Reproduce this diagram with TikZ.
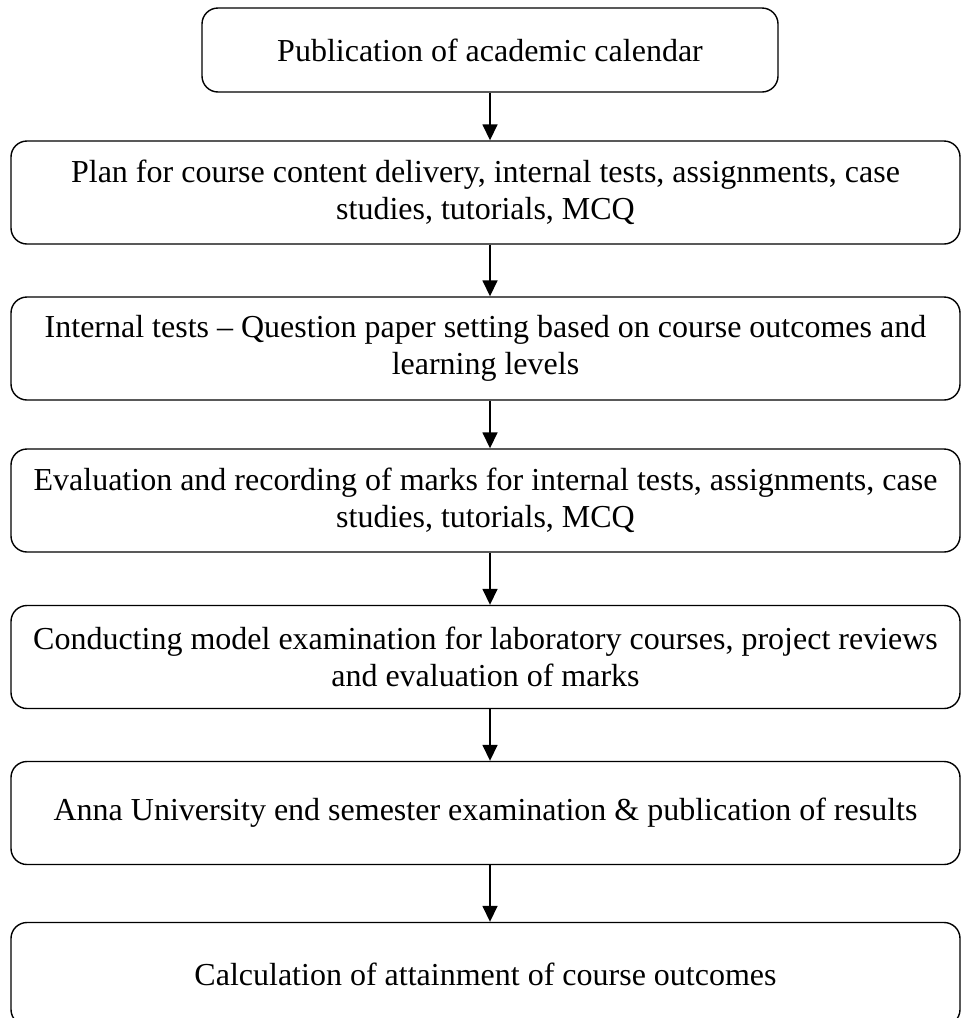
\documentclass[tikz,border=0pt]{standalone}
\usepackage{fontspec}
\setmainfont{Liberation Serif}
\usepackage{tikz}
\usetikzlibrary{arrows.meta}

\begin{document}
\begin{tikzpicture}[x = 1pt, y = -1pt,
  stagebox/.style = {draw, line width = 1.4pt, rounded corners = 16pt,
    shape = rectangle, inner sep = 0pt, align = center,
    minimum width = 949pt, minimum height = 103pt,
    font = \fontsize{32}{36.8}\selectfont},
  flow/.style = {line width = 1.6pt, -{Triangle[length = 16pt, width = 15pt]}}]

% frame
  \fill[white] (0,0) rectangle (961,1018);
  \useasboundingbox (0,0) rectangle (961,1018);

% stages
  \node[stagebox, minimum width = 576pt, minimum height = 84pt]
    (calendar) at (490,50) {Publication of academic calendar};
  \node[stagebox] (plan) at (485.5,192.5)
    {Plan for course content delivery, internal tests, assignments, case\\
     studies, tutorials, MCQ};
  \node[stagebox] (papers) at (485.5,348.5)
    {Internal tests – Question paper setting based on course outcomes and\\
     learning levels};
  \node[stagebox] (marks) at (485.5,500.5)
    {Evaluation and recording of marks for internal tests, assignments, case\\
     studies, tutorials, MCQ};
  \node[stagebox] (model) at (485.5,657)
    {Conducting model examination for laboratory courses, project reviews\\
     and evaluation of marks};
  \node[stagebox] (results) at (485.5,813)
    {Anna University end semester examination \& publication of results};
  \node[stagebox] (attain) at (485.5,974)
    {Calculation of attainment of course outcomes};

% arrows
  \draw[flow] (calendar.south) -- (plan.north -| calendar.south);
  \draw[flow] (plan.south -| calendar.south) -- (papers.north -| calendar.south);
  \draw[flow] (papers.south -| calendar.south) -- (marks.north -| calendar.south);
  \draw[flow] (marks.south -| calendar.south) -- (model.north -| calendar.south);
  \draw[flow] (model.south -| calendar.south) -- (results.north -| calendar.south);
  \draw[flow] (results.south -| calendar.south) -- (attain.north -| calendar.south);

\end{tikzpicture}
\end{document}
